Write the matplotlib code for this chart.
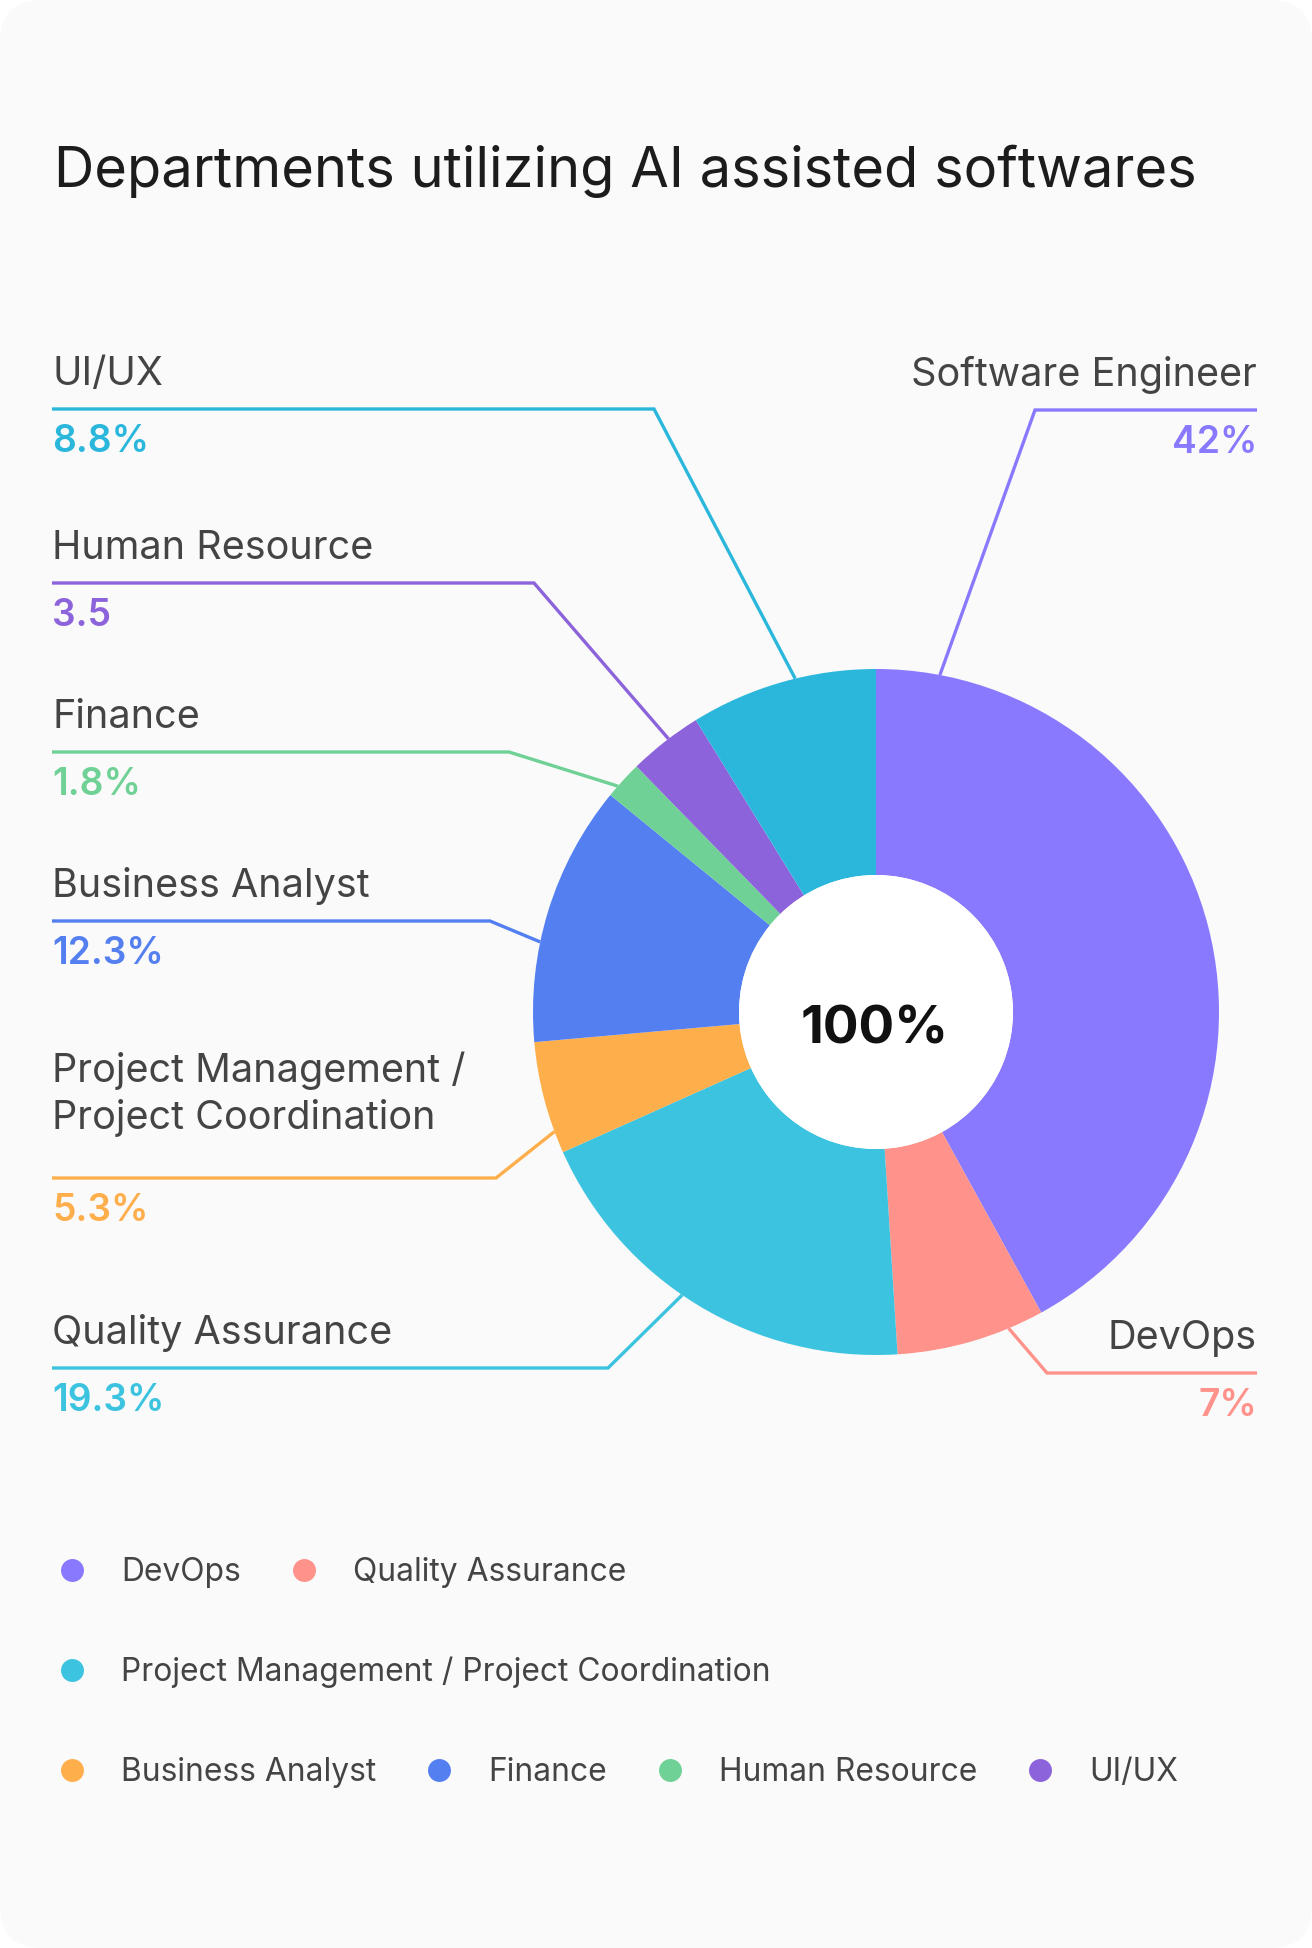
import numpy as np
import matplotlib
matplotlib.use('Agg')
import matplotlib.pyplot as plt
from matplotlib.patches import FancyBboxPatch, Circle

plt.rcParams['font.family'] = ['Inter', 'DejaVu Sans']

# Data:
departments = ['Software Engineer', 'DevOps', 'Quality Assurance',
               'Project Management /\nProject Coordination', 'Business Analyst',
               'Finance', 'Human Resource', 'UI/UX']
shares = [42, 7, 19.3, 5.3, 12.3, 1.8, 3.5, 8.8]
value_labels = ['42%', '7%', '19.3%', '5.3%', '12.3%', '1.8%', '3.5', '8.8%']
colors = ['#8979FF', '#FF928A', '#3CC3DF', '#FFAE4C', '#537FF1', '#6FD195', '#8C63DA', '#2BB7DC']

# Legend (as in the original: labels start at DevOps with the first colour)
legend_labels = ['DevOps', 'Quality Assurance', 'Project Management / Project Coordination',
                 'Business Analyst', 'Finance', 'Human Resource', 'UI/UX']
legend_colors = colors[:7]
legend_rows = [[0, 1], [2], [3, 4, 5, 6]]

# Callout layout (pixels): side, y of the horizontal line, elbow x, anchor position inside slice
callout_side = ['right', 'right', 'left', 'left', 'left', 'left', 'left', 'left']
callout_y = [410, 1373, 1368, 1178, 921, 752, 583, 409]
callout_elbow = [1035, 1047, 608, 496, 490, 509, 534, 654]
callout_frac = [0.071, 0.24, 0.547, 0.195, 0.38, 0.30, 0.56, 0.57]

W, H = 1312, 1948
cx, cy, R_out, R_in = 876, 1012, 343, 137
left_x, right_x = 52, 1257
name_color = '#444444'

fig = plt.figure(figsize=(W / 100, H / 100), dpi=100, facecolor='white')
ax = fig.add_axes([0, 0, 1, 1])

# Donut (y axis is flipped, so counterclock in data = clockwise on screen)
ax.pie(shares, colors=colors, startangle=-90, counterclock=True, radius=R_out,
       center=(cx, cy), wedgeprops=dict(width=R_out - R_in, linewidth=0))
ax.add_patch(Circle((cx, cy), R_in, facecolor='white', edgecolor='none', zorder=3))
ax.set_xlim(0, W)
ax.set_ylim(H, 0)
ax.axis('off')

# Card background
ax.add_patch(FancyBboxPatch((0, 0), W, H, boxstyle='round,pad=0,rounding_size=42',
                            facecolor='#FAFAFA', edgecolor='none', zorder=0))

# Title and centre text
ax.text(54, 187, 'Departments utilizing AI assisted softwares', fontsize=40.3,
        color='#1c1c1c', va='baseline', ha='left')
ax.text(cx - 1, 1044, '100%', fontsize=38.2, fontweight='bold', color='#111111',
        va='baseline', ha='center', zorder=4)

# Callouts
bounds = np.concatenate([[0], np.cumsum(shares)]) / np.sum(shares) * 360
for i, name in enumerate(departments):
    a = np.radians(bounds[i] + callout_frac[i] * (bounds[i + 1] - bounds[i]))
    axx, ayy = cx + R_out * np.sin(a), cy - R_out * np.cos(a)
    ly = callout_y[i]
    ex = callout_elbow[i]
    tx = right_x if callout_side[i] == 'right' else left_x
    ha = 'right' if callout_side[i] == 'right' else 'left'
    ax.plot([tx, ex, axx], [ly, ly, ayy], color=colors[i], lw=2.4,
            solid_capstyle='butt', solid_joinstyle='miter', zorder=2)
    lines = name.split('\n')
    for k, line in enumerate(lines):
        base = ly - 24 - 25 * (len(lines) - 1) - 47 * (len(lines) - 1 - k)
        ax.text(tx, base, line, fontsize=28.5, color=name_color, ha=ha, va='baseline')
    ax.text(tx, ly + 43, value_labels[i], fontsize=26.8, fontweight='semibold',
            color=colors[i], ha=ha, va='baseline')

# Legend
fig.canvas.draw()
renderer = fig.canvas.get_renderer()
row_y = [1570, 1670, 1770]
for r, row in enumerate(legend_rows):
    x = 72
    for j in row:
        ax.plot([x], [row_y[r]], 'o', ms=16.5, color=legend_colors[j], mec='none')
        t = ax.text(x + 49, row_y[r] + 11, legend_labels[j], fontsize=22.9,
                    color=name_color, ha='left', va='baseline')
        w = t.get_window_extent(renderer).width
        x = x + 49 + w + 63

fig.savefig('out.png', dpi=100, facecolor='white')
